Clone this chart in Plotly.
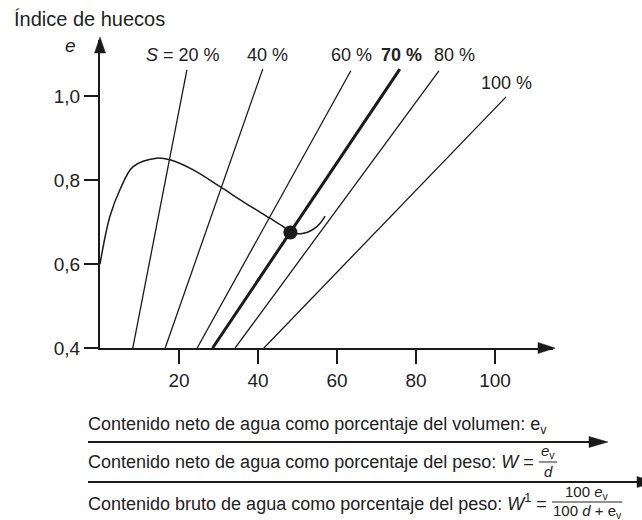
import plotly.graph_objects as go

# ---------------- data ----------------
sat_labels = ["<i>S</i> = 20 %", "40 %", "60 %", "<b>70 %</b>", "80 %", "100 %"]
sat_x_bottom = [8.3, 16.5, 24.6, 28.5, 34.2, 41.5]
sat_e_bottom = [0.4, 0.4, 0.4, 0.4, 0.4, 0.4]
sat_x_top = [22.0, 41.2, 63.5, 75.9, 85.8, 102.8]
sat_e_top = [1.062, 1.064, 1.060, 1.064, 1.060, 0.998]
sat_width = [1.3, 1.3, 1.3, 3.0, 1.3, 1.3]

curve_x = [0.0, 2.5, 5.1, 8.4, 14.3, 17.7, 23.6, 30.4, 36.3, 43.0, 46.4, 48.3, 51.5, 54.9, 57.0]
curve_e = [0.600, 0.713, 0.778, 0.832, 0.852, 0.848, 0.824, 0.784, 0.748, 0.709, 0.689, 0.675, 0.673, 0.689, 0.714]

point_x = [48.2]
point_e = [0.675]

x_ticks = [20, 40, 60, 80, 100]
y_ticks = [0.4, 0.6, 0.8, 1.0]
y_ticktext = ["0,4", "0,6", "0,8", "1,0"]

# ---------------- layout geometry (pixels) ----------------
W_FIG, H_FIG = 642, 520
L, R, T, B = 100, 553, 40, 348
PW, PH = R - L, B - T
FONT = "Liberation Sans, Arial, Helvetica, sans-serif"
INK = "#1a1a1a"
TXT = "#222"


def px(X):
    return (X - L) / PW


def py(Y):
    return (B - Y) / PH


fig = go.Figure()

for i in range(len(sat_labels)):
    fig.add_trace(go.Scatter(
        x=[sat_x_bottom[i], sat_x_top[i]], y=[sat_e_bottom[i], sat_e_top[i]],
        mode="lines", line=dict(color=INK, width=sat_width[i]),
        hoverinfo="skip", showlegend=False))

fig.add_trace(go.Scatter(
    x=curve_x, y=curve_e, mode="lines",
    line=dict(color=INK, width=1.5, shape="spline", smoothing=1.0),
    hoverinfo="skip", showlegend=False))

fig.add_trace(go.Scatter(
    x=point_x, y=point_e, mode="markers",
    marker=dict(color=INK, size=14), showlegend=False))

ann = []
label_pos = [(183, 55), (267, 55), (351, 55), (401, 55), (454, 55), (506, 83)]
for (X, Y), t in zip(label_pos, sat_labels):
    ann.append(dict(x=px(X), y=py(Y), xref="paper", yref="paper", text=t,
                    showarrow=False, xanchor="center", yanchor="middle",
                    font=dict(size=18, family=FONT, color=TXT)))

ann.append(dict(x=px(12), y=py(19), xref="paper", yref="paper", text="Índice de huecos",
                showarrow=False, xanchor="left", yanchor="middle",
                font=dict(size=20, family=FONT, color=TXT)))
ann.append(dict(x=px(70), y=py(46), xref="paper", yref="paper", text="<i>e</i>",
                showarrow=False, xanchor="center", yanchor="middle",
                font=dict(size=19, family=FONT, color=TXT)))

TF = 18
ann.append(dict(x=px(86), y=py(425), xref="paper", yref="paper",
                text="Contenido neto de agua como porcentaje del volumen: e<sub>v</sub>",
                showarrow=False, xanchor="left", yanchor="middle",
                font=dict(size=TF, family=FONT, color=TXT)))
ann.append(dict(x=px(86), y=py(462), xref="paper", yref="paper",
                text="Contenido neto de agua como porcentaje del peso: <i>W</i> =",
                showarrow=False, xanchor="left", yanchor="middle",
                font=dict(size=TF, family=FONT, color=TXT)))
ann.append(dict(x=px(86), y=py(502), xref="paper", yref="paper",
                text="Contenido bruto de agua como porcentaje del peso: <i>W</i><sup>1</sup> =",
                showarrow=False, xanchor="left", yanchor="middle",
                font=dict(size=TF, family=FONT, color=TXT)))

FF = 15
f2c = 548
ann.append(dict(x=px(f2c), y=py(452), xref="paper", yref="paper",
                text="<i>e</i><sub>v</sub>", showarrow=False, xanchor="center", yanchor="middle",
                font=dict(size=FF, family=FONT, color=TXT)))
ann.append(dict(x=px(f2c), y=py(471), xref="paper", yref="paper",
                text="<i>d</i>", showarrow=False, xanchor="center", yanchor="middle",
                font=dict(size=FF, family=FONT, color=TXT)))
f3c = 587
ann.append(dict(x=px(f3c), y=py(492), xref="paper", yref="paper",
                text="100 <i>e</i><sub>v</sub>", showarrow=False, xanchor="center", yanchor="middle",
                font=dict(size=FF, family=FONT, color=TXT)))
ann.append(dict(x=px(f3c), y=py(511), xref="paper", yref="paper",
                text="100 <i>d</i> + e<sub>v</sub>", showarrow=False, xanchor="center", yanchor="middle",
                font=dict(size=FF, family=FONT, color=TXT)))

shapes = []
shapes.append(dict(type="line", xref="paper", yref="paper",
                   x0=px(f2c - 9), x1=px(f2c + 9), y0=py(462), y1=py(462),
                   line=dict(color=TXT, width=1)))
shapes.append(dict(type="line", xref="paper", yref="paper",
                   x0=px(f3c - 35), x1=px(f3c + 35), y0=py(502), y1=py(502),
                   line=dict(color=TXT, width=1)))


def tri(points):
    return "M " + " L ".join(f"{px(a)},{py(b)}" for a, b in points) + " Z"


shapes.append(dict(type="path", xref="paper", yref="paper",
                   path=tri([(100, 37), (94.5, 53), (105.5, 53)]),
                   fillcolor=INK, line=dict(color=INK, width=0.5)))
shapes.append(dict(type="path", xref="paper", yref="paper",
                   path=tri([(555, 348), (538, 342.5), (538, 353.5)]),
                   fillcolor=INK, line=dict(color=INK, width=0.5)))

for yy, tip in [(442, 608), (482, 656)]:
    shapes.append(dict(type="line", xref="paper", yref="paper",
                       x0=px(88), x1=px(tip - 10), y0=py(yy), y1=py(yy),
                       line=dict(color=INK, width=2)))
    shapes.append(dict(type="path", xref="paper", yref="paper",
                       path=tri([(tip, yy), (tip - 19, yy - 5.5), (tip - 19, yy + 5.5)]),
                       fillcolor=INK, line=dict(color=INK, width=0.5)))

fig.update_layout(
    width=W_FIG, height=H_FIG, autosize=False,
    margin=dict(l=L, r=W_FIG - R, t=T, b=H_FIG - B, pad=0),
    paper_bgcolor="white", plot_bgcolor="white",
    showlegend=False,
    annotations=ann, shapes=shapes,
    font=dict(family=FONT, color=TXT, size=18),
    xaxis=dict(range=[0, PW / 3.95], showgrid=False, zeroline=False,
               showline=True, linecolor=INK, linewidth=2,
               ticks="outside", ticklen=14, tickwidth=1.5, tickcolor=INK,
               tickvals=x_ticks, ticktext=[str(v) for v in x_ticks],
               tickfont=dict(size=19, family=FONT, color=TXT), fixedrange=True),
    yaxis=dict(range=[0.4, 0.4 + PH / 420.0], showgrid=False, zeroline=False,
               showline=True, linecolor=INK, linewidth=2,
               ticks="outside", ticklen=14, tickwidth=1.5, tickcolor=INK,
               tickvals=y_ticks, ticktext=y_ticktext,
               tickfont=dict(size=19, family=FONT, color=TXT), fixedrange=True),
)

fig.write_html("out.html", config={"displayModeBar": False},
               post_script="document.body.style.margin='0px';document.body.style.overflow='hidden';")
